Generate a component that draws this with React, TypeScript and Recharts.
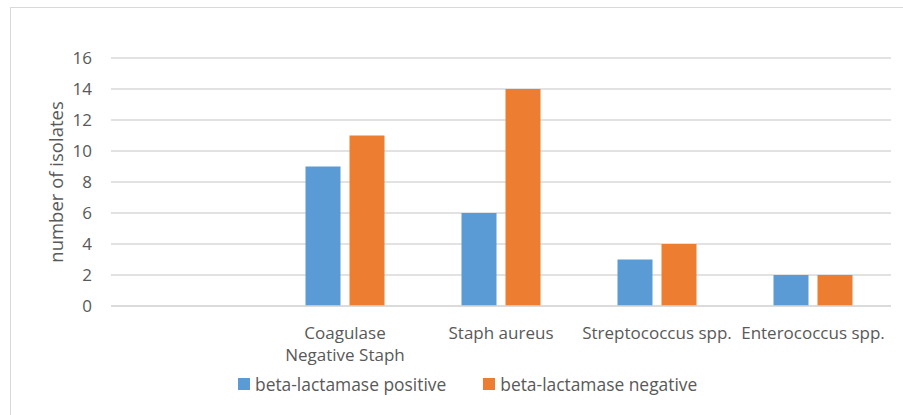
import { BarChart, Bar, XAxis, YAxis, CartesianGrid } from 'recharts';

const CATEGORIES = ['', 'Coagulase Negative Staph', 'Staph aureus', 'Streptococcus spp.', 'Enterococcus spp.'];
const POSITIVE = [null, 9, 6, 3, 2];
const NEGATIVE = [null, 11, 14, 4, 2];
const Y_TICKS = [0, 2, 4, 6, 8, 10, 12, 14, 16];

const SERIES = [
  { key: 'positive', name: 'beta-lactamase positive', color: '#5B9BD5' },
  { key: 'negative', name: 'beta-lactamase negative', color: '#ED7D31' },
];

const data = CATEGORIES.map((name, i) => ({
  name,
  positive: POSITIVE[i],
  negative: NEGATIVE[i],
}));

const FONT = '"Open Sans", sans-serif';
const TEXT = '#595959';
const GRID = '#d9d9d9';

// long labels wrap after the first word, like the excel original
function splitLabel(label: string) {
  if (label.length <= 20) return [label];
  const i = label.indexOf(' ');
  return [label.slice(0, i), label.slice(i + 1)];
}

function XTick({ x, y, payload }: any) {
  const lines = splitLabel(String(payload.value));
  return (
    <text x={x} y={y + 33} textAnchor="middle" fill={TEXT} fontSize={17} fontFamily={FONT}>
      {lines.map((l, i) => (
        <tspan key={i} x={x} dy={i === 0 ? 0 : 22}>
          {l}
        </tspan>
      ))}
    </text>
  );
}

function YLabel({ viewBox }: any) {
  const cx = 55;
  const cy = viewBox.y + viewBox.height / 2;
  return (
    <text
      x={cx}
      y={cy}
      transform={`rotate(-90, ${cx}, ${cy})`}
      textAnchor="middle"
      dominantBaseline="central"
      fill={TEXT}
      fontSize={18.5}
      fontFamily={FONT}
    >
      number of isolates
    </text>
  );
}

function ChartLegend() {
  return (
    <div
      style={{
        position: 'absolute',
        left: 238,
        top: 372,
        display: 'flex',
        fontFamily: FONT,
        fontSize: 17.4,
        color: TEXT,
      }}
    >
      {SERIES.map((s, i) => (
        <div key={s.key} style={{ display: 'flex', alignItems: 'center', marginRight: i === 0 ? 37 : 0 }}>
          <span style={{ width: 12, height: 12, background: s.color, display: 'inline-block', marginRight: 5 }} />
          <span>{s.name}</span>
        </div>
      ))}
    </div>
  );
}

export default function App() {
  return (
    <div style={{ position: 'absolute', left: 0, top: 0, width: 903, height: 415, overflow: 'hidden', background: '#fff' }}>
      <div
        style={{
          position: 'absolute',
          left: 10,
          top: 7,
          width: 905,
          height: 420,
          border: '1px solid #d9d9d9',
        }}
      />
      <div style={{ position: 'absolute', left: 0, top: 0 }}>
        <BarChart
          width={903}
          height={415}
          data={data}
          margin={{ top: 58, right: 12, bottom: 49, left: 0 }}
          barCategoryGap={38.5}
          barGap={9}
        >
          <CartesianGrid vertical={false} stroke={GRID} strokeWidth={1.5} />
          <XAxis
            dataKey="name"
            height={60}
            interval={0}
            tickLine={false}
            axisLine={{ stroke: GRID, strokeWidth: 1.5 }}
            tickSize={0}
            tickMargin={0}
            tick={<XTick />}
          />
          <YAxis
            width={111}
            domain={[0, 16]}
            ticks={Y_TICKS}
            interval={0}
            axisLine={false}
            tickLine={false}
            tickSize={0}
            tickMargin={19}
            tick={{ fill: TEXT, fontSize: 17, fontFamily: FONT }}
            label={<YLabel />}
          />
          {SERIES.map((s) => (
            <Bar key={s.key} dataKey={s.key} name={s.name} fill={s.color} isAnimationActive={false} />
          ))}
        </BarChart>
      </div>
      <ChartLegend />
    </div>
  );
}
